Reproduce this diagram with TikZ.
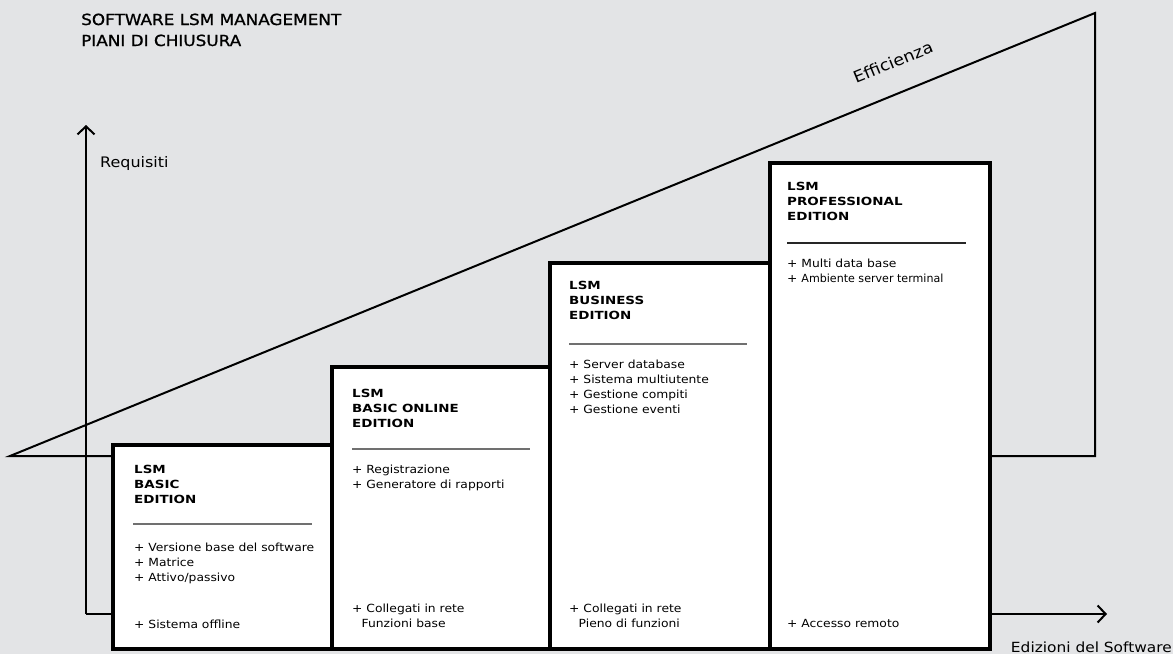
\documentclass[tikz,border=0pt]{standalone}
\usepackage{fontspec}
\usepackage{graphicx}
\setmainfont{DejaVu Sans}[FakeStretch=1.1]
\newfontfamily\ttlfont{DejaVu Sans}[FakeStretch=1.2]
\newfontfamily\headfont{DejaVu Sans}[FakeStretch=1.1,FakeBold=1]
\usetikzlibrary{arrows.meta}
\definecolor{bg}{HTML}{E3E4E6}
\definecolor{sepgray}{HTML}{707070}
\newcommand\txtlines[5]{%
  \foreach \t [count=\i from 0] in {#5} {\node[#4, name=#1\i] at (#2, #3+15*\i) {\t};}}
\begin{document}
\begin{tikzpicture}[x=1pt,y=-1pt,
  boxst/.style={draw=black, line width=4pt, fill=white, inner sep=0pt, outer sep=0pt, anchor=north west},
  itemtxt/.style={anchor=base west, inner sep=0pt, font=\fontsize{11.2}{13}\selectfont},
  headtxt/.style={anchor=base west, inner sep=0pt, font=\ttlfont\bfseries\fontsize{11.2}{13}\selectfont},
  sepline/.style={draw=sepgray, line width=1.3pt},
  axisline/.style={draw=black, line width=2pt, -{Straight Barb[length=8pt,width=17pt]}},
  triline/.style={draw=black, line width=2pt, line join=miter},
  label/.style={inner sep=0pt}]
\useasboundingbox (0,0) rectangle (1173,654);
\fill[bg] (0,0) rectangle (1173,654);
% title
\node[label, anchor=base west, font=\headfont\fontsize{15.3}{18}\selectfont] (title1) at (81,25) {SOFTWARE LSM MANAGEMENT};
\node[label, anchor=base west, font=\headfont\fontsize{15.3}{18}\selectfont] (title2) at (81,46) {PIANI DI CHIUSURA};
% triangle
\coordinate (tA) at (10,456);
\coordinate (tB) at (1095,13);
\coordinate (tC) at (1095,456);
\draw[triline] (tA) -- (tB) -- (tC) -- cycle;
\node[label, rotate=22.3, font=\fontsize{16}{18}\selectfont] (eff) at (893,62) {Efficienza};
% axes
\coordinate (o) at (86,614);
\coordinate (ytip) at (86,125);
\coordinate (xtip) at (1107,614);
\draw[axisline] (o) -- (ytip);
\draw[axisline] (o) -- (xtip);
\node[label, anchor=base west, font=\fontsize{14.5}{16}\selectfont] (req) at (100,167) {Requisiti};
\node[label, anchor=base east, font=\fontsize{14}{16}\selectfont] (ediz) at (1172,652) {Edizioni del Software};
% boxes
\node[boxst, minimum width=219pt, minimum height=204pt] (b1) at (112.5,445) {};
\node[boxst, minimum width=218.5pt, minimum height=282pt] (b2) at (331.5,367) {};
\node[boxst, minimum width=220pt, minimum height=386pt] (b3) at (550,263) {};
\node[boxst, minimum width=220pt, minimum height=486pt] (b4) at (770,163) {};
% box 1
\txtlines{h1-}{134}{473}{headtxt}{LSM,BASIC,EDITION}
\draw[sepline] (133,524) -- (312,524);
\txtlines{i1-}{134}{551}{itemtxt}{+ Versione base del software,+ Matrice,+ Attivo/passivo}
\txtlines{f1-}{134}{628}{itemtxt}{+ Sistema offline}
% box 2
\txtlines{h2-}{352}{397}{headtxt}{LSM,BASIC ONLINE,EDITION}
\draw[sepline] (352,449) -- (530,449);
\txtlines{i2-}{352}{473}{itemtxt}{+ Registrazione,+ Generatore di rapporti}
\txtlines{f2-}{352}{612}{itemtxt}{+ Collegati in rete,\hspace*{9.5pt}Funzioni base}
% box 3
\txtlines{h3-}{569}{289}{headtxt}{LSM,BUSINESS,EDITION}
\draw[sepline] (569,344) -- (747,344);
\txtlines{i3-}{569}{368}{itemtxt}{+ Server database,+ Sistema multiutente,+ Gestione compiti,+ Gestione eventi}
\txtlines{f3-}{569}{612}{itemtxt}{+ Collegati in rete,\hspace*{9.5pt}Pieno di funzioni}
% box 4
\txtlines{h4-}{787}{190}{headtxt}{LSM,PROFESSIONAL,EDITION}
\draw[sepline, draw=black!85] (787,243) -- (966,243);
\txtlines{i4-}{787}{267}{itemtxt}{+ Multi data base,+ \scalebox{0.9}[1]{Ambiente server terminal}}
\txtlines{f4-}{787}{627}{itemtxt}{+ Accesso remoto}
\end{tikzpicture}
\end{document}
